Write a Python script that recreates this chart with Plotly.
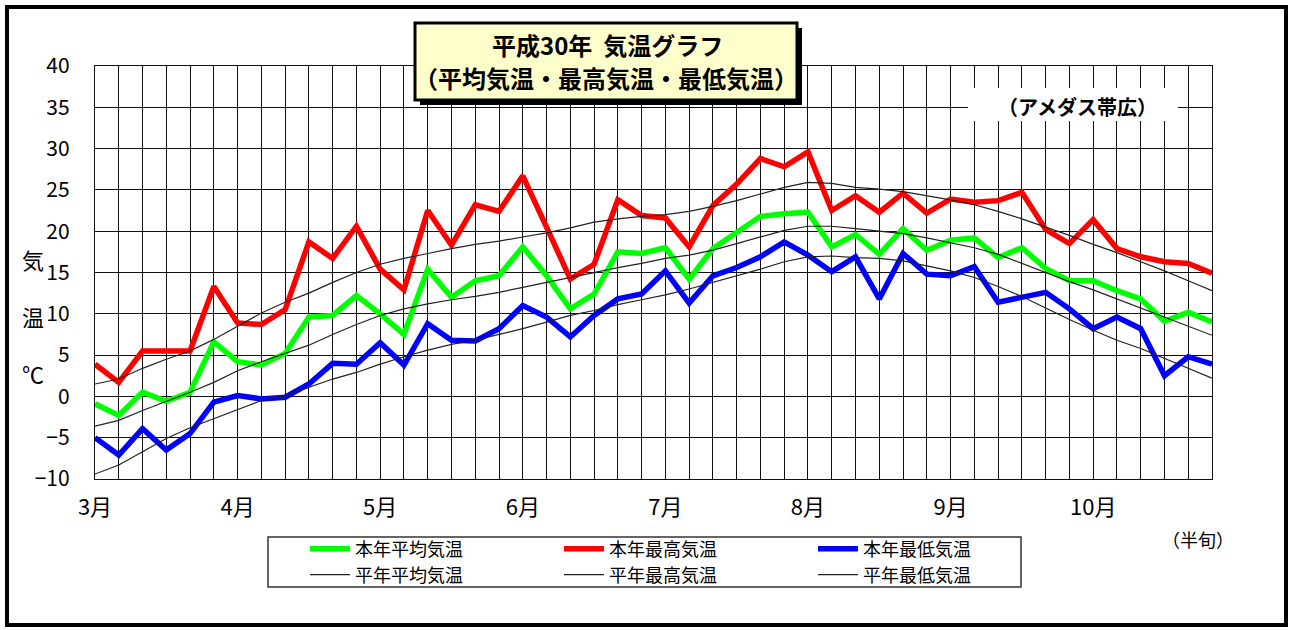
import plotly.graph_objects as go

# ---- data (half-month periods, 3月 .. 10月) ----
periods = list(range(48))
month_labels = ["3月", "4月", "5月", "6月", "7月", "8月", "9月", "10月"]

this_avg = [-0.9, -2.3, 0.5, -0.6, 0.5, 6.6, 4.2, 3.8, 5.2, 9.6, 9.8, 12.2,
            10.0, 7.5, 15.4, 12.0, 14.0, 14.6, 18.1, 14.6, 10.6, 12.4, 17.5, 17.3,
            18.0, 14.2, 17.9, 19.9, 21.8, 22.1, 22.3, 18.1, 19.6, 17.2, 20.3, 17.7,
            18.9, 19.2, 16.8, 18.0, 15.5, 14.0, 14.0, 12.8, 11.8, 9.1, 10.2, 9.0]
this_max = [3.9, 1.7, 5.5, 5.5, 5.5, 13.3, 8.9, 8.7, 10.5, 18.7, 16.7, 20.6,
            15.4, 12.9, 22.5, 18.3, 23.2, 22.4, 26.7, 20.5, 14.2, 16.0, 23.8, 21.9,
            21.6, 18.1, 23.1, 25.7, 28.8, 27.8, 29.6, 22.5, 24.3, 22.3, 24.6, 22.2,
            23.9, 23.5, 23.7, 24.7, 20.2, 18.5, 21.4, 17.9, 16.9, 16.3, 16.1, 14.9]
this_min = [-5.0, -7.1, -3.9, -6.5, -4.5, -0.7, 0.1, -0.3, -0.1, 1.5, 4.0, 3.9,
            6.5, 3.8, 8.8, 6.8, 6.7, 8.2, 11.0, 9.6, 7.2, 9.8, 11.8, 12.4,
            15.2, 11.3, 14.6, 15.6, 16.9, 18.7, 17.1, 15.1, 16.9, 11.8, 17.3, 14.8,
            14.6, 15.7, 11.4, 12.0, 12.6, 10.6, 8.2, 9.6, 8.2, 2.5, 4.8, 3.9]
norm_avg = [-3.6, -2.9, -1.7, -0.6, 0.5, 1.7, 3.1, 4.2, 5.2, 6.2, 7.5, 8.7,
            9.8, 10.6, 11.2, 11.7, 12.1, 12.6, 13.2, 13.8, 14.4, 15.0, 15.6, 16.1,
            16.7, 17.1, 17.7, 18.5, 19.3, 20.1, 20.6, 20.6, 20.3, 20.0, 19.7, 19.2,
            18.6, 18.0, 17.2, 16.1, 15.0, 13.9, 12.9, 11.8, 10.7, 9.6, 8.5, 7.4]
norm_max = [1.5, 2.1, 3.4, 4.5, 5.5, 6.9, 8.5, 10.1, 11.4, 12.5, 13.8, 15.0,
            16.0, 16.7, 17.3, 17.9, 18.4, 18.8, 19.3, 19.8, 20.4, 21.1, 21.5, 21.8,
            22.0, 22.4, 23.0, 23.7, 24.5, 25.3, 25.9, 25.8, 25.3, 25.1, 24.8, 24.3,
            23.8, 23.2, 22.4, 21.5, 20.5, 19.5, 18.4, 17.4, 16.3, 15.2, 14.0, 12.8]
norm_min = [-9.4, -8.3, -6.7, -5.1, -3.8, -2.7, -1.6, -0.5, 0.1, 1.1, 2.1, 2.9,
            3.9, 4.8, 5.6, 6.3, 6.8, 7.5, 8.2, 9.0, 9.8, 10.4, 11.1, 11.7,
            12.3, 13.0, 13.8, 14.6, 15.4, 16.3, 16.9, 17.0, 16.8, 16.7, 16.4, 15.8,
            15.2, 14.4, 13.3, 12.1, 10.7, 9.3, 8.0, 6.8, 5.8, 4.6, 3.4, 2.2]

tick_text = [month_labels[i // 6] if i % 6 == 0 else "" for i in periods]

FONT = "Noto Sans CJK JP"
W, H = 1292, 630
PL, PR, PT, PB = 95, 1212, 66, 479


def px(x):
    return (x - PL) / (PR - PL)


def py(y):
    return (PB - y) / (PB - PT)


fig = go.Figure()

thick = [
    ("本年平均気温", this_avg, "#00FF00"),
    ("本年最高気温", this_max, "#FF0000"),
    ("本年最低気温", this_min, "#0000FF"),
]
thin = [
    ("平年平均気温", norm_avg),
    ("平年最高気温", norm_max),
    ("平年最低気温", norm_min),
]
for name, vals, col in thick:
    fig.add_trace(go.Scatter(x=periods, y=vals, mode="lines", name=name,
                             line=dict(color=col, width=5.5), legend="legend"))
for name, vals in thin:
    fig.add_trace(go.Scatter(x=periods, y=vals, mode="lines", name=name,
                             line=dict(color="#222222", width=1.2), legend="legend2"))

shapes = [
    # outer frame
    dict(type="rect", xref="paper", yref="paper", x0=px(7), x1=px(1286), y0=py(7), y1=py(625),
         line=dict(color="black", width=4), layer="above"),
    # title shadow + box
    dict(type="rect", xref="paper", yref="paper", x0=px(420), x1=px(802), y0=py(28), y1=py(105),
         fillcolor="black", line=dict(width=0), layer="above"),
    dict(type="rect", xref="paper", yref="paper", x0=px(415), x1=px(797), y0=py(23), y1=py(100),
         fillcolor="#FFFFCC", line=dict(color="black", width=3), layer="above"),
    # subtitle white area
    dict(type="rect", xref="paper", yref="paper", x0=px(968), x1=px(1178), y0=py(88), y1=py(121),
         fillcolor="white", line=dict(width=0), layer="above"),
    # legend frame
    dict(type="rect", xref="paper", yref="paper", x0=px(268), x1=px(1021), y0=py(537), y1=py(587),
         line=dict(color="#333333", width=1.5), layer="above"),
]

ann_font = dict(family=FONT, color="black")


def ann(text, x, y, size):
    return dict(text=text, x=px(x), y=py(y), xref="paper", yref="paper", showarrow=False,
                xanchor="center", yanchor="middle", font=dict(size=size, **ann_font))


annotations = [
    ann("<b>平成30年\u00a0\u00a0気温グラフ</b>", 607, 45, 24),
    ann("<b>（平均気温・最高気温・最低気温）</b>", 606, 78, 24),
    ann("<b>（アメダス帯広）</b>", 1077, 106, 20),
    ann("気", 33, 259, 22),
    ann("温", 33, 316, 22),
    ann("℃", 33, 373, 22),
    ann("（半旬）", 1198, 539, 18),
]

legend_common = dict(orientation="h", xref="paper", yref="paper", xanchor="left", yanchor="middle",
                     bgcolor="rgba(0,0,0,0)", borderwidth=0, itemwidth=40,
                     entrywidthmode="pixels", entrywidth=199,
                     font=dict(family=FONT, size=18, color="black"), traceorder="normal")

fig.update_layout(
    width=W, height=H,
    margin=dict(l=PL, r=W - PR, t=PT, b=H - PB),
    paper_bgcolor="white", plot_bgcolor="white",
    font=dict(family=FONT, color="black"),
    showlegend=True,
    legend=dict(x=px(305), y=py(549), **legend_common),
    legend2=dict(x=px(305), y=py(575), **legend_common),
    shapes=shapes,
    annotations=annotations,
    xaxis=dict(range=[0, 47], tickvals=periods, ticktext=tick_text, showgrid=True,
               gridcolor="#111111", gridwidth=1.3, showline=True, mirror=True,
               linecolor="#111111", linewidth=1.3, zeroline=False, ticks="",
               tickfont=dict(family=FONT, size=22, color="black"), ticklabelstandoff=8),
    yaxis=dict(range=[-10, 40], tickvals=[-10, -5, 0, 5, 10, 15, 20, 25, 30, 35, 40],
               showgrid=True, gridcolor="#111111", gridwidth=1.3, showline=True, mirror=True,
               linecolor="#111111", linewidth=1.3, zeroline=False, ticks="",
               tickfont=dict(family=FONT, size=21, color="black"), ticklabelstandoff=20),
)

fig.write_html("out.html", config={"displayModeBar": False},
               post_script="document.body.style.margin='0';document.body.style.overflow='hidden';")
